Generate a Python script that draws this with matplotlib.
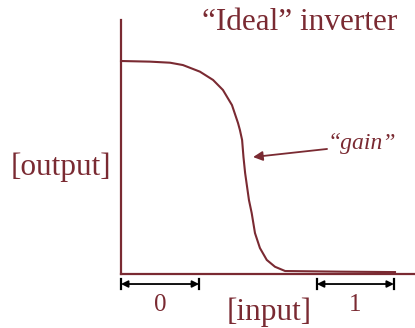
import matplotlib
matplotlib.use("Agg")
import matplotlib.pyplot as plt

# transfer curve of the inverter (normalized input / output)
input_vals = [0.0, 0.106, 0.179, 0.226, 0.288, 0.336, 0.372, 0.405, 0.427, 0.434, 0.442,
              0.447, 0.453, 0.467, 0.477, 0.489, 0.507, 0.532, 0.562, 0.599, 0.80, 1.0]
output_vals = [1.0, 0.997, 0.992, 0.981, 0.950, 0.911, 0.864, 0.793, 0.709, 0.676, 0.629,
               0.549, 0.474, 0.347, 0.286, 0.192, 0.122, 0.066, 0.034, 0.014, 0.011, 0.009]

zero_band = [0.0, 0.285]
one_band = [0.715, 0.996]

title_text = "\u201cIdeal\u201d inverter"
xlabel_text = "[input]"
ylabel_text = "[output]"
gain_text = "\u201cgain\u201d"
band_labels = ["0", "1"]

red = "#7a2a32"
plt.rcParams['font.family'] = ['Liberation Serif', 'DejaVu Serif']

fig = plt.figure(figsize=(4.15, 3.28), dpi=100)
ax = fig.add_axes([0, 0, 1, 1])
ax.set_xlim(-0.4416, 1.073)
ax.set_ylim(-0.2535, 1.2864)
ax.set_xticks([])
ax.set_yticks([])
for s in ['top', 'right']:
    ax.spines[s].set_visible(False)
ax.spines['left'].set_position(('data', 0))
ax.spines['bottom'].set_position(('data', 0))
ax.spines['left'].set_bounds(0, 1.192)
ax.spines['bottom'].set_bounds(0, 1.073)
for s in ['left', 'bottom']:
    ax.spines[s].set_color(red)
    ax.spines[s].set_linewidth(1.6)
ax.patch.set_visible(False)

ax.plot(input_vals, output_vals, color=red, lw=1.5, solid_joinstyle='round')

yb = -0.047
for band in (zero_band, one_band):
    ax.annotate("", xy=(band[1], yb), xytext=(band[0], yb),
                arrowprops=dict(arrowstyle="<|-|>", color="black", lw=1.3,
                                mutation_scale=10, shrinkA=0, shrinkB=0))
    for xv in band:
        ax.plot([xv, xv], [yb - 0.022, yb + 0.022], color="black", lw=1.6)

ax.text(0.142, -0.146, band_labels[0], color=red, fontsize=18, ha='center', va='center')
ax.text(0.854, -0.146, band_labels[1], color=red, fontsize=18, ha='center', va='center')
ax.text(0.540, -0.178, xlabel_text, color=red, fontsize=22.5, ha='center', va='center')
ax.text(-0.219, 0.502, ylabel_text, color=red, fontsize=22.5, ha='center', va='center')
ax.text(0.653, 1.183, title_text, color=red, fontsize=22.5, ha='center', va='center')
ax.text(0.880, 0.615, gain_text, color=red, fontsize=17, ha='center', va='center', style='italic')
ax.annotate("", xy=(0.482, 0.549), xytext=(0.752, 0.587),
            arrowprops=dict(arrowstyle="-|>", color=red, lw=1.3, mutation_scale=14,
                            shrinkA=0, shrinkB=0))

fig.savefig("out.png", dpi=100)
